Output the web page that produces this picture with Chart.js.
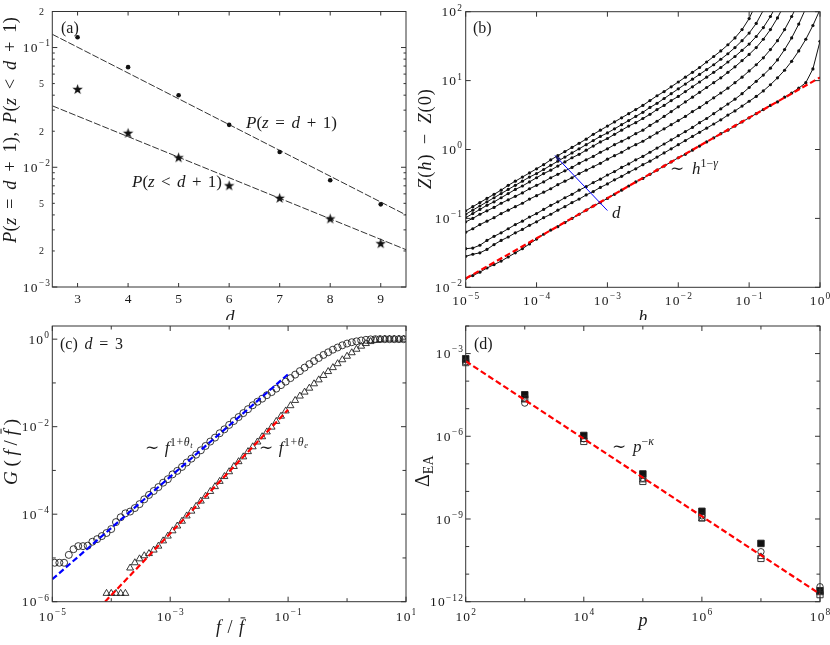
<!DOCTYPE html>
<html>
<head>
<meta charset="utf-8">
<title>Scaling panels</title>
<script src="https://cdn.jsdelivr.net/npm/chart.js@4.4.1/dist/chart.umd.min.js"></script>
<style>
  html, body { margin: 0; padding: 0; background: #fff; }
  #page { position: relative; width: 830px; height: 645px; overflow: hidden; }
  #page canvas { position: absolute; }
</style>
</head>
<body>
<div id="page">
  <canvas id="panelA" width="415" height="320" style="left:0;top:0"></canvas>
  <canvas id="panelB" width="415" height="320" style="left:415px;top:0"></canvas>
  <canvas id="panelC" width="415" height="325" style="left:0;top:320px"></canvas>
  <canvas id="panelD" width="415" height="325" style="left:415px;top:320px"></canvas>
</div>
<script>
// ---------- (a) probabilities vs d ----------
const aD = [3, 4, 5, 6, 7, 8, 9];
const aPEqual = [0.122, 0.0686, 0.0400, 0.0226, 0.0134, 0.0078, 0.0049];
const aPLess = [0.0446, 0.0192, 0.0120, 0.0070, 0.0055, 0.0037, 0.0023];
const aFitD = [2.5, 9.5];
const aFitEqual = [0.129, 0.0040];
const aFitLess = [0.0326, 0.00205];
const aXTicks = [3, 4, 5, 6, 7, 8, 9];
const aYTicks = [0.001, 0.002, 0.005, 0.01, 0.02, 0.05, 0.1, 0.2];
const aYTickText = ['10^{−3}', '2', '5', '10^{−2}', '2', '5', '10^{−1}', '2'];

// ---------- (b) Z(h) - Z(0), values stored as log10 ----------
const bLogH = [-5.0, -4.9, -4.8, -4.7, -4.6, -4.5, -4.4, -4.3, -4.2, -4.1,
  -4.0, -3.9, -3.8, -3.7, -3.6, -3.5, -3.4, -3.3, -3.2, -3.1,
  -3.0, -2.9, -2.8, -2.7, -2.6, -2.5, -2.4, -2.3, -2.2, -2.1,
  -2.0, -1.9, -1.8, -1.7, -1.6, -1.5, -1.4, -1.3, -1.2, -1.1,
  -1.0, -0.9, -0.8, -0.7, -0.6, -0.5, -0.4, -0.3, -0.2, -0.1, 0.0];
const bLogZ1 = [-0.89, -0.83, -0.77, -0.71, -0.65, -0.59, -0.52, -0.46, -0.40, -0.34,
  -0.28, -0.22, -0.15, -0.09, -0.03, 0.03, 0.09, 0.15, 0.22, 0.28,
  0.34, 0.40, 0.46, 0.52, 0.58, 0.64, 0.71, 0.78, 0.84, 0.91,
  0.98, 1.05, 1.12, 1.19, 1.27, 1.35, 1.43, 1.52, 1.62, 1.74,
  1.90, 2.12, null, null, null, null, null, null, null, null, null];
const bLogZ2 = [-0.94, -0.88, -0.82, -0.76, -0.70, -0.64, -0.58, -0.52, -0.46, -0.40,
  -0.35, -0.29, -0.23, -0.17, -0.11, -0.05, 0.01, 0.07, 0.13, 0.19,
  0.24, 0.30, 0.36, 0.42, 0.48, 0.54, 0.61, 0.67, 0.74, 0.81,
  0.88, 0.95, 1.02, 1.09, 1.16, 1.23, 1.31, 1.39, 1.48, 1.58,
  1.69, 1.83, 2.02, 2.25, null, null, null, null, null, null, null];
const bLogZ3 = [-0.99, -0.93, -0.87, -0.81, -0.76, -0.70, -0.64, -0.58, -0.53, -0.47,
  -0.41, -0.35, -0.30, -0.24, -0.18, -0.12, -0.07, -0.01, 0.05, 0.11,
  0.16, 0.22, 0.28, 0.34, 0.39, 0.45, 0.51, 0.58, 0.64, 0.71,
  0.77, 0.84, 0.91, 0.98, 1.05, 1.12, 1.19, 1.27, 1.35, 1.44,
  1.53, 1.64, 1.77, 1.93, 2.12, 2.35, null, null, null, null, null];
const bLogZ4 = [-1.05, -1.00, -0.94, -0.89, -0.84, -0.78, -0.73, -0.68, -0.63, -0.57,
  -0.52, -0.47, -0.41, -0.36, -0.31, -0.26, -0.20, -0.15, -0.10, -0.04,
  0.01, 0.07, 0.12, 0.17, 0.23, 0.28, 0.35, 0.41, 0.48, 0.55,
  0.62, 0.69, 0.76, 0.83, 0.90, 0.97, 1.04, 1.12, 1.20, 1.29,
  1.38, 1.48, 1.60, 1.74, 1.91, 2.11, 2.35, null, null, null, null];
const bLogZ5 = [-1.20, -1.15, -1.09, -1.04, -0.99, -0.93, -0.88, -0.83, -0.78, -0.72,
  -0.67, -0.62, -0.57, -0.51, -0.46, -0.41, -0.35, -0.30, -0.25, -0.20,
  -0.14, -0.09, -0.04, 0.02, 0.07, 0.12, 0.18, 0.24, 0.30, 0.36,
  0.42, 0.48, 0.55, 0.61, 0.68, 0.75, 0.82, 0.89, 0.97, 1.05,
  1.14, 1.23, 1.33, 1.45, 1.58, 1.74, 1.93, 2.14, 2.40, null, null];
const bLogZ6 = [-1.44, -1.43, -1.39, -1.32, -1.26, -1.21, -1.15, -1.09, -1.04, -0.98,
  -0.93, -0.87, -0.81, -0.76, -0.70, -0.65, -0.59, -0.54, -0.48, -0.43,
  -0.37, -0.32, -0.26, -0.21, -0.15, -0.10, -0.04, 0.02, 0.08, 0.14,
  0.20, 0.26, 0.32, 0.39, 0.45, 0.52, 0.59, 0.66, 0.73, 0.81,
  0.90, 0.99, 1.08, 1.18, 1.30, 1.45, 1.62, 1.82, 2.05, 2.30, null];
const bLogZ7 = [-1.55, -1.52, -1.50, -1.45, -1.38, -1.32, -1.27, -1.21, -1.16, -1.10,
  -1.05, -0.99, -0.94, -0.88, -0.83, -0.77, -0.72, -0.66, -0.61, -0.55,
  -0.50, -0.44, -0.39, -0.33, -0.28, -0.22, -0.17, -0.11, -0.05, 0.01,
  0.07, 0.13, 0.19, 0.25, 0.31, 0.37, 0.43, 0.50, 0.56, 0.63,
  0.70, 0.77, 0.85, 0.94, 1.04, 1.15, 1.28, 1.43, 1.60, 1.80, 2.03];
const bLogZ8 = [-1.87, -1.83, -1.78, -1.72, -1.67, -1.62, -1.56, -1.50, -1.44, -1.37,
  -1.30, -1.23, -1.17, -1.12, -1.06, -1.00, -0.94, -0.88, -0.82, -0.77,
  -0.71, -0.65, -0.59, -0.53, -0.47, -0.42, -0.36, -0.30, -0.24, -0.18,
  -0.12, -0.07, -0.01, 0.05, 0.11, 0.17, 0.23, 0.28, 0.34, 0.40,
  0.46, 0.52, 0.58, 0.64, 0.69, 0.76, 0.82, 0.89, 0.97, 1.17, 1.57];
const bFitH = [1e-5, 1];
const bFitZ = [0.0134, 11.1];
const bArrowH = [1.0e-3, 1.82e-4];
const bArrowZ = [0.130, 0.82];
const bXTicks = [1e-5, 1e-4, 1e-3, 1e-2, 1e-1, 1];
const bXTickText = ['10^{−5}', '10^{−4}', '10^{−3}', '10^{−2}', '10^{−1}', '10^{0}'];
const bYTicks = [1e-2, 1e-1, 1, 10, 100];
const bYTickText = ['10^{−2}', '10^{−1}', '10^{0}', '10^{1}', '10^{2}'];

// ---------- (c) G(f / f-bar), values stored as log10 ----------
const cLogF = [-4.96, -4.88, -4.80, -4.72, -4.64, -4.56, -4.48, -4.40, -4.32, -4.24,
  -4.16, -4.08, -4.00, -3.92, -3.84, -3.76, -3.68, -3.60, -3.52, -3.44,
  -3.36, -3.28, -3.20, -3.12, -3.04, -2.96, -2.88, -2.80, -2.72, -2.64,
  -2.56, -2.48, -2.40, -2.32, -2.24, -2.16, -2.08, -2.00, -1.92, -1.84,
  -1.76, -1.68, -1.60, -1.52, -1.44, -1.36, -1.28, -1.20, -1.12, -1.04,
  -0.96, -0.88, -0.80, -0.72, -0.64, -0.56, -0.48, -0.40, -0.32, -0.24,
  -0.16, -0.08, 0.00, 0.08, 0.16, 0.24, 0.32, 0.40, 0.48, 0.56,
  0.64, 0.72, 0.80, 0.88, 0.96];
const cLogCircle = [-5.11, -5.11, -5.11, -4.93, -4.80, -4.73, -4.73, -4.72, -4.63, -4.57,
  -4.50, -4.43, -4.34, -4.18, -4.07, -3.98, -3.94, -3.86, -3.77, -3.66,
  -3.56, -3.47, -3.38, -3.28, -3.20, -3.09, -3.01, -2.92, -2.82, -2.73,
  -2.64, -2.54, -2.44, -2.34, -2.25, -2.15, -2.06, -1.96, -1.87, -1.78,
  -1.69, -1.60, -1.51, -1.43, -1.36, -1.28, -1.21, -1.13, -1.05, -0.97,
  -0.89, -0.81, -0.73, -0.65, -0.57, -0.50, -0.43, -0.36, -0.30, -0.24,
  -0.19, -0.14, -0.10, -0.07, -0.05, -0.03, -0.015, -0.005, 0, 0,
  0, 0, 0, 0, 0];
const cLogTriangle = [null, null, null, null, null, null, null, null, null, null,
  null, -5.81, -5.81, -5.81, -5.81, -5.81, -5.23, -5.11, -5.02, -4.95,
  -4.90, -4.82, -4.73, -4.61, -4.50, -4.38, -4.27, -4.16, -4.04, -3.93,
  -3.82, -3.70, -3.59, -3.48, -3.37, -3.25, -3.14, -3.03, -2.91, -2.80,
  -2.69, -2.57, -2.46, -2.35, -2.23, -2.12, -2.01, -1.88, -1.76, -1.64,
  -1.52, -1.40, -1.30, -1.21, -1.12, -1.02, -0.93, -0.83, -0.74, -0.65,
  -0.56, -0.47, -0.39, -0.31, -0.23, -0.16, -0.10, -0.055, -0.025, -0.01,
  0, 0, 0, 0, 0];
const cFitTF = [1e-5, 0.1];
const cFitTG = [3.26e-6, 0.158];
const cFitEF = [7.85e-5, 0.1];
const cFitEG = [1.0e-6, 0.0243];
const cXTicks = [1e-5, 1e-3, 1e-1, 10];
const cXTickText = ['10^{−5}', '10^{−3}', '10^{−1}', '10^{1}'];
const cYTicks = [1e-6, 1e-4, 1e-2, 1];
const cYTickText = ['10^{−6}', '10^{−4}', '10^{−2}', '10^{0}'];

// ---------- (d) Delta_EA vs p ----------
const dP = [1e2, 1e3, 1e4, 1e5, 1e6, 1e7, 1e8];
const dFilledSquare = [6.5e-4, 3.2e-5, 1.07e-6, 4.3e-8, 1.9e-9, 1.3e-10, 2.5e-12];
const dOpenCircle = [5.0e-4, 1.6e-5, 8.1e-7, 3.0e-8, 1.3e-9, 6.5e-11, 3.5e-12];
const dOpenTriangle = [5.5e-4, 2.1e-5, 7.6e-7, 2.6e-8, 1.0e-9, 4.3e-11, 2.1e-12];
const dOpenSquare = [4.7e-4, 2.3e-5, 6.5e-7, 2.3e-8, 1.1e-9, 3.7e-11, 1.8e-12];
const dFitP = [1e2, 1e8];
const dFitDelta = [5.3e-4, 1.9e-12];
const dXTicks = [1e2, 1e4, 1e6, 1e8];
const dXTickText = ['10^{2}', '10^{4}', '10^{6}', '10^{8}'];
const dYTicks = [1e-12, 1e-9, 1e-6, 1e-3];
const dYTickText = ['10^{−12}', '10^{−9}', '10^{−6}', '10^{−3}'];

// ---------- helpers ----------
const SERIF = '"Liberation Serif", "DejaVu Serif", serif';
const INK = '#1a1a1a';
const RED = 'rgb(255,0,0)';
const BLUE = 'rgb(0,0,255)';
const TICK = 13.5;

const pts = (xs, ys) => xs.map((v, i) => ({x: v, y: ys[i]})).filter(p => p.y != null);
const pow10 = arr => arr.map(v => v == null ? null : Math.pow(10, v));

// tiny math-text renderer: ^{..} superscript, _{..} subscript, !{..} upright
function parseMath(str) {
  const runs = [];
  (function walk(s, shift, scale, roman) {
    let i = 0;
    while (i < s.length) {
      const c = s[i];
      if ((c === '^' || c === '_' || c === '!') && s[i + 1] === '{') {
        let depth = 0, j = i + 1;
        for (; j < s.length; j++) {
          if (s[j] === '{') depth++;
          else if (s[j] === '}' && --depth === 0) break;
        }
        const inner = s.slice(i + 2, j);
        if (c === '!') walk(inner, shift, scale, true);
        else walk(inner, shift + (c === '^' ? 0.42 : -0.2) * scale, scale * 0.7, roman);
        i = j + 1;
      } else if (c === '\u0304') {
        if (runs.length) runs[runs.length - 1].bar = true;
        i++;
      } else {
        runs.push({ch: c, shift, scale, it: !roman && /[A-Za-zγθκ]/.test(c)});
        i++;
      }
    }
  })(str, 0, 1, false);
  return runs;
}

function drawMath(ctx, str, x, y, size, opt) {
  opt = opt || {};
  const runs = parseMath(str);
  let total = 0;
  runs.forEach(r => {
    r.font = (r.it ? 'italic ' : '') + (size * r.scale).toFixed(2) + 'px ' + SERIF;
    ctx.font = r.font;
    r.w = ctx.measureText(r.ch).width;
    total += r.w;
  });
  const n = runs.length;
  const spaces = runs.filter(r => r.ch === ' ').length;
  let gap = opt.gap || 0, spaceExtra = 0;
  if (opt.w) {
    let extra = opt.w - total;
    if (spaces) {
      spaceExtra = Math.min(extra / spaces, 0.2 * size);
      extra -= spaceExtra * spaces;
    }
    gap = n > 1 ? extra / (n - 1) : 0;
  }
  const width = total + gap * (n - 1) + spaceExtra * spaces;
  let u = opt.align === 'center' ? -width / 2 : opt.align === 'right' ? -width : 0;
  ctx.save();
  ctx.translate(x, y);
  if (opt.rotate) ctx.rotate(-Math.PI / 2);
  ctx.fillStyle = ctx.strokeStyle = INK;
  ctx.textAlign = 'left';
  ctx.textBaseline = 'alphabetic';
  ctx.lineWidth = 1;
  runs.forEach(r => {
    const v = -r.shift * size;
    ctx.font = r.font;
    ctx.fillText(r.ch, u, v);
    if (r.bar) {
      const top = v - size * r.scale * 0.84;
      ctx.beginPath();
      ctx.moveTo(u + r.w * 0.3, top);
      ctx.lineTo(u + r.w * 1.25, top);
      ctx.stroke();
    }
    u += r.w + gap + (r.ch === ' ' ? spaceExtra : 0);
  });
  ctx.restore();
}

function logTicks(lo, hi, every, minor) {
  const t = [];
  for (let e = lo; e <= hi; e++) {
    t.push([Math.pow(10, e), (e - lo) % every === 0 ? 5 : 3.5]);
    if (minor && e < hi) for (let m = 2; m < 10; m++) t.push([m * Math.pow(10, e), 2.5]);
  }
  return t;
}

function starImage(r) {
  const c = document.createElement('canvas');
  c.width = c.height = 2 * r + 2;
  const g = c.getContext('2d');
  g.translate(r + 1, r + 1);
  g.beginPath();
  for (let k = 0; k < 10; k++) {
    const rr = k % 2 ? r * 0.4 : r;
    const t = -Math.PI / 2 + k * Math.PI / 5;
    g.lineTo(rr * Math.cos(t), rr * Math.sin(t));
  }
  g.closePath();
  g.fillStyle = '#111';
  g.fill();
  return c;
}

// frame, inward ticks on four sides, tick labels and texts (text positions in page px)
function frame(origin, deco) {
  return {
    id: 'frame',
    afterDatasetsDraw(chart) {
      const {ctx, chartArea: a} = chart;
      const sx = chart.scales.x, sy = chart.scales.y;
      const seg = (x1, y1, x2, y2) => { ctx.beginPath(); ctx.moveTo(x1, y1); ctx.lineTo(x2, y2); ctx.stroke(); };
      ctx.save();
      if (deco.extra) deco.extra(chart, ctx);
      ctx.strokeStyle = '#333';
      ctx.lineWidth = 1;
      deco.xTicks.forEach(([v, len]) => {
        const p = sx.getPixelForValue(v);
        seg(p, a.bottom, p, a.bottom - len);
        seg(p, a.top, p, a.top + len);
      });
      deco.yTicks.forEach(([v, len]) => {
        const p = sy.getPixelForValue(v);
        seg(a.left, p, a.left + len, p);
        seg(a.right, p, a.right - len, p);
      });
      ctx.strokeRect(a.left, a.top, a.right - a.left, a.bottom - a.top);
      deco.xLabels.forEach(([v, s]) =>
        drawMath(ctx, s, sx.getPixelForValue(v), deco.xLabelY - origin[1], TICK, {align: 'center', gap: 1.2}));
      deco.yLabels.forEach(([v, s, size, right]) =>
        drawMath(ctx, s, right - origin[0], sy.getPixelForValue(v) + 0.34 * size, size, {align: 'right', gap: 1.2}));
      deco.texts.forEach(t => drawMath(ctx, t.s, t.x - origin[0], t.y - origin[1], t.size, t));
      ctx.restore();
    }
  };
}

function panel(id, origin, pad, scales, datasets, deco) {
  return new Chart(document.getElementById(id), {
    type: 'scatter',
    data: {datasets},
    options: {
      responsive: false,
      animation: false,
      events: [],
      layout: {padding: pad},
      scales: {
        x: Object.assign({display: false}, scales.x),
        y: Object.assign({display: false}, scales.y)
      },
      plugins: {legend: {display: false}, tooltip: {enabled: false}}
    },
    plugins: [frame(origin, deco)]
  });
}

const lineSet = (data, color, width, dash, order) => ({
  data, showLine: true, borderColor: color, borderWidth: width, borderDash: dash,
  pointRadius: 0, order
});
const markSet = (data, style, radius, fill, order, extra) => Object.assign({
  data, showLine: false, pointStyle: style, pointRadius: radius,
  backgroundColor: fill, borderColor: '#222', borderWidth: 0.9, order
}, extra || {});

// ---------- panel (a) ----------
panel('panelA', [0, 0], {left: 52.3, right: 9, top: 11.5, bottom: 33},
  {x: {type: 'linear', min: 2.5, max: 9.5}, y: {type: 'logarithmic', min: 0.001, max: 0.2}},
  [
    lineSet(pts(aFitD, aFitEqual), '#333', 1, [7, 2], 2),
    lineSet(pts(aFitD, aFitLess), '#333', 1, [7, 2], 2),
    markSet(pts(aD, aPEqual), 'circle', 2.3, '#111', 1, {borderWidth: 0}),
    markSet(pts(aD, aPLess), starImage(5.5), 5.5, '#111', 1, {borderWidth: 0})
  ],
  {
    xTicks: aXTicks.map(v => [v, 4]),
    yTicks: logTicks(-3, -1, 1, true),
    xLabels: aXTicks.map(v => [v, String(v)]),
    xLabelY: 303,
    yLabels: aYTicks.map((v, i) => aYTickText[i].length > 1
      ? [v, aYTickText[i], TICK, 50] : [v, aYTickText[i], 10, 44]),
    texts: [
      {s: '(!{a})', x: 61, y: 33, size: 16},
      {s: 'P(z = d + 1)', x: 246, y: 128, size: 17, w: 91},
      {s: 'P(z < d + 1)', x: 132, y: 187, size: 17, w: 90},
      {s: 'P(z = d + 1), P(z < d + 1)', x: 16, y: 243, size: 18.5, w: 226, rotate: true},
      {s: 'd', x: 230, y: 323, size: 18, align: 'center'}
    ]
  });

// ---------- panel (b) ----------
const bCurves = [bLogZ1, bLogZ2, bLogZ3, bLogZ4, bLogZ5, bLogZ6, bLogZ7, bLogZ8];
panel('panelB', [415, 0], {left: 50.7, right: 10, top: 11.7, bottom: 32.7},
  {x: {type: 'logarithmic', min: 1e-5, max: 1}, y: {type: 'logarithmic', min: 1e-2, max: 1e2}},
  [lineSet(pts(bFitH, bFitZ), RED, 2.2, [6, 3], 0)].concat(bCurves.map(c => ({
    data: pts(pow10(bLogH), pow10(c)), showLine: true, borderColor: '#111', borderWidth: 1,
    pointRadius: 1.6, pointBackgroundColor: '#111', pointBorderWidth: 0, order: 1
  }))),
  {
    xTicks: bXTicks.map(v => [v, 5]),
    yTicks: bYTicks.map(v => [v, 5]),
    xLabels: bXTicks.map((v, i) => [v, bXTickText[i]]),
    xLabelY: 305,
    yLabels: bYTicks.map((v, i) => [v, bYTickText[i], TICK, 462]),
    texts: [
      {s: '(!{b})', x: 473, y: 33, size: 16},
      {s: '∼ h^{1−γ}', x: 670, y: 174, size: 17, w: 48},
      {s: 'd', x: 612, y: 218, size: 17},
      {s: 'Z(h) − Z(0)', x: 431, y: 189, size: 18.5, w: 100, rotate: true},
      {s: 'h', x: 643, y: 323, size: 18, align: 'center'}
    ],
    extra(chart, ctx) {
      const sx = chart.scales.x, sy = chart.scales.y;
      const x0 = sx.getPixelForValue(bArrowH[0]), y0 = sy.getPixelForValue(bArrowZ[0]);
      const x1 = sx.getPixelForValue(bArrowH[1]), y1 = sy.getPixelForValue(bArrowZ[1]);
      const ang = Math.atan2(y1 - y0, x1 - x0);
      ctx.strokeStyle = BLUE;
      ctx.fillStyle = '#1a1a6a';
      ctx.lineWidth = 1;
      ctx.beginPath(); ctx.moveTo(x0, y0); ctx.lineTo(x1, y1); ctx.stroke();
      ctx.beginPath();
      ctx.moveTo(x1, y1);
      ctx.lineTo(x1 - 6 * Math.cos(ang) + 2.3 * Math.sin(ang), y1 - 6 * Math.sin(ang) - 2.3 * Math.cos(ang));
      ctx.lineTo(x1 - 6 * Math.cos(ang) - 2.3 * Math.sin(ang), y1 - 6 * Math.sin(ang) + 2.3 * Math.cos(ang));
      ctx.closePath();
      ctx.fill();
    }
  });

// ---------- panel (c) ----------
panel('panelC', [0, 320], {left: 52.3, right: 9, top: 6, bottom: 43.3},
  {x: {type: 'logarithmic', min: 1e-5, max: 10}, y: {type: 'logarithmic', min: 1e-6, max: 2}},
  [
    lineSet(pts(cFitTF, cFitTG), BLUE, 2.2, [6, 3], 0),
    lineSet(pts(cFitEF, cFitEG), RED, 2.2, [6, 3], 0),
    markSet(pts(pow10(cLogF), pow10(cLogCircle)), 'circle', 3.5, 'rgba(0,0,0,0)', 1),
    markSet(pts(pow10(cLogF), pow10(cLogTriangle)), 'triangle', 4, 'rgba(0,0,0,0)', 1)
  ],
  {
    xTicks: logTicks(-5, 1, 2, false),
    yTicks: logTicks(-6, 0, 2, false),
    xLabels: cXTicks.map((v, i) => [v, cXTickText[i]]),
    xLabelY: 621,
    yLabels: cYTicks.map((v, i) => [v, cYTickText[i], TICK, 49]),
    texts: [
      {s: '(!{c}) d = 3', x: 60, y: 349, size: 16, w: 63},
      {s: '∼ f^{1+θ_{t}}', x: 145, y: 453, size: 17, gap: 0.6},
      {s: '∼ f^{1+θ_{e}}', x: 259, y: 453, size: 17, gap: 0.6},
      {s: 'G(f/f\u0304)', x: 17, y: 485, size: 19, w: 66, rotate: true},
      {s: 'f / f\u0304', x: 230, y: 633, size: 18, w: 28, align: 'center'}
    ]
  });

// ---------- panel (d) ----------
panel('panelD', [415, 320], {left: 50.7, right: 10, top: 6, bottom: 43.3},
  {x: {type: 'logarithmic', min: 1e2, max: 1e8}, y: {type: 'logarithmic', min: 1e-12, max: 1e-2}},
  [
    lineSet(pts(dFitP, dFitDelta), RED, 2.2, [6, 3], 0),
    markSet(pts(dP, dFilledSquare), 'rect', 4.6, '#111', 4, {clip: false}),
    markSet(pts(dP, dOpenCircle), 'circle', 3.2, 'rgba(0,0,0,0)', 3, {clip: false}),
    markSet(pts(dP, dOpenTriangle), 'triangle', 3.8, 'rgba(0,0,0,0)', 2, {clip: false}),
    markSet(pts(dP, dOpenSquare), 'rect', 4.4, 'rgba(0,0,0,0)', 1, {clip: false})
  ],
  {
    xTicks: logTicks(2, 8, 2, false),
    yTicks: logTicks(-12, -2, 3, false),
    xLabels: dXTicks.map((v, i) => [v, dXTickText[i]]),
    xLabelY: 621,
    yLabels: dYTicks.map((v, i) => [v, dYTickText[i], TICK, 463]),
    texts: [
      {s: '(!{d})', x: 474, y: 349, size: 16},
      {s: '∼ p^{−κ}', x: 612, y: 452, size: 17, w: 42},
      {s: 'Δ_{!{EA}}', x: 429, y: 487, size: 20, rotate: true},
      {s: 'p', x: 643, y: 626, size: 18, align: 'center'}
    ]
  });
</script>
</body>
</html>
